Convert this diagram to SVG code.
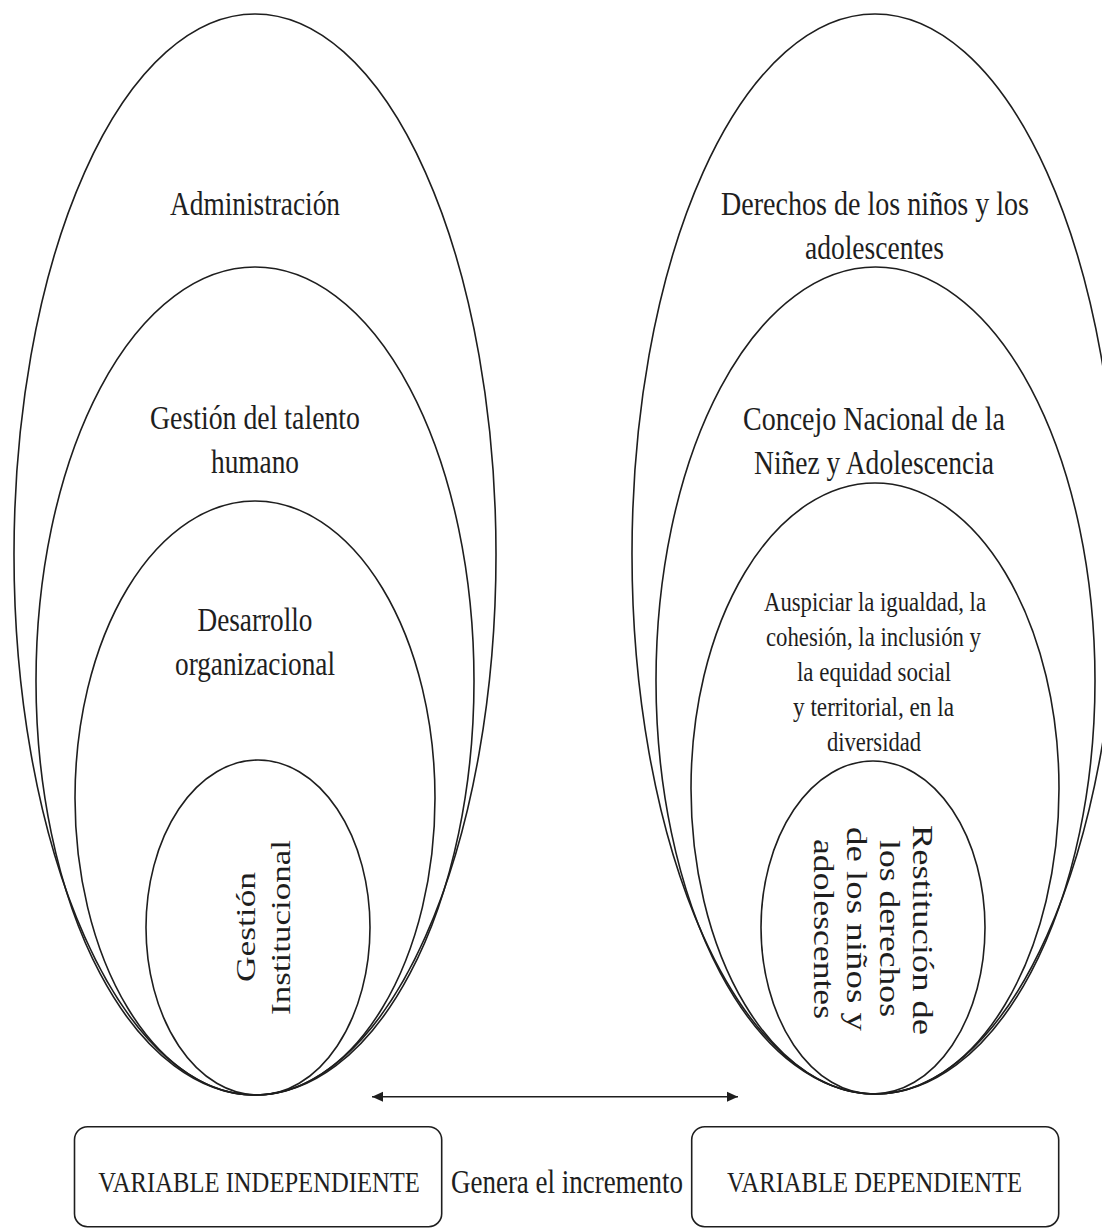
<svg xmlns="http://www.w3.org/2000/svg" width="1102" height="1230" viewBox="0 0 1102 1230">
<style>
.e{fill:none;stroke:#1e1e1e;stroke-width:1.6}
.box{fill:#fff;stroke:#1e1e1e;stroke-width:1.6}
.t{font-family:"Liberation Serif","Times New Roman",serif;fill:#1e1e1e;text-anchor:middle}
.f34{font-size:34px}
.f28{font-size:28px}
.f30{font-size:30px}
.f35{font-size:35px}
.f36{font-size:36px}
.conn{stroke:#1e1e1e;stroke-width:1.6;fill:none}
</style>
<defs>
<marker id="ah" markerUnits="userSpaceOnUse" markerWidth="12" markerHeight="12" viewBox="0 0 12 12" refX="11" refY="6" orient="auto-start-reverse">
<path d="M0,1 L11,6 L0,11 Z" fill="#1e1e1e"/>
</marker>
</defs>
<rect width="1102" height="1230" fill="#fff"/>

<g id="left-administracion">
<ellipse class="e" cx="255" cy="554.5" rx="241" ry="540.5"/>
<text class="t f34" x="255" y="215" textLength="170" lengthAdjust="spacingAndGlyphs">Administración</text>
</g>
<g id="left-talento">
<ellipse class="e" cx="255" cy="681" rx="219" ry="414"/>
<text class="t f34" x="255" y="429" textLength="210" lengthAdjust="spacingAndGlyphs">Gestión del talento</text>
<text class="t f34" x="255" y="473" textLength="88" lengthAdjust="spacingAndGlyphs">humano</text>
</g>
<g id="left-desarrollo">
<ellipse class="e" cx="255" cy="798" rx="180" ry="297"/>
<text class="t f34" x="255" y="631" textLength="115" lengthAdjust="spacingAndGlyphs">Desarrollo</text>
<text class="t f34" x="255" y="675" textLength="160" lengthAdjust="spacingAndGlyphs">organizacional</text>
</g>
<g id="left-gestion-institucional">
<ellipse class="e" cx="258" cy="927.5" rx="112" ry="167.5"/>
<text class="t f35" transform="translate(255,927) scale(0.8,1) rotate(-90)" x="0" y="0" textLength="110" lengthAdjust="spacingAndGlyphs">Gestión</text>
<text class="t f35" transform="translate(290,927.5) scale(0.8,1) rotate(-90)" x="0" y="0" textLength="175" lengthAdjust="spacingAndGlyphs">Institucional</text>
</g>

<g id="right-derechos">
<ellipse class="e" cx="875" cy="554" rx="243" ry="540"/>
<text class="t f34" x="875" y="215" textLength="308" lengthAdjust="spacingAndGlyphs">Derechos de los niños y los</text>
<text class="t f34" x="874.5" y="259" textLength="139" lengthAdjust="spacingAndGlyphs">adolescentes</text>
</g>
<g id="right-concejo">
<ellipse class="e" cx="875.5" cy="680.5" rx="219.5" ry="413.5"/>
<text class="t f34" x="874" y="430" textLength="262" lengthAdjust="spacingAndGlyphs">Concejo Nacional de la</text>
<text class="t f34" x="874" y="474" textLength="240" lengthAdjust="spacingAndGlyphs">Niñez y Adolescencia</text>
</g>
<g id="right-auspiciar">
<ellipse class="e" cx="875" cy="788.5" rx="184" ry="305.5"/>
<text class="t f28" x="875" y="611" textLength="222" lengthAdjust="spacingAndGlyphs">Auspiciar la igualdad, la</text>
<text class="t f28" x="873.5" y="646" textLength="215" lengthAdjust="spacingAndGlyphs">cohesión, la inclusión y</text>
<text class="t f28" x="874" y="681" textLength="154" lengthAdjust="spacingAndGlyphs">la equidad social</text>
<text class="t f28" x="873.5" y="716" textLength="161" lengthAdjust="spacingAndGlyphs">y territorial, en la</text>
<text class="t f28" x="874" y="751" textLength="94" lengthAdjust="spacingAndGlyphs">diversidad</text>
</g>
<g id="right-restitucion">
<ellipse class="e" cx="873" cy="927.5" rx="112" ry="166.5"/>
<text class="t f36" transform="translate(913,930) scale(0.8,1) rotate(90)" x="0" y="0" textLength="210" lengthAdjust="spacingAndGlyphs">Restitución de</text>
<text class="t f36" transform="translate(880,928.5) scale(0.8,1) rotate(90)" x="0" y="0" textLength="177" lengthAdjust="spacingAndGlyphs">los derechos</text>
<text class="t f36" transform="translate(847,929) scale(0.8,1) rotate(90)" x="0" y="0" textLength="204" lengthAdjust="spacingAndGlyphs">de los niños y</text>
<text class="t f36" transform="translate(814,929) scale(0.8,1) rotate(90)" x="0" y="0" textLength="180" lengthAdjust="spacingAndGlyphs">adolescentes</text>
</g>

<g id="box-independiente">
<rect class="box" x="74.5" y="1126.7" width="367.2" height="100" rx="13"/>
<text class="t f30" transform="translate(259,1191.5) scale(0.8,1)" x="0" y="0" textLength="402" lengthAdjust="spacingAndGlyphs">VARIABLE INDEPENDIENTE</text>
</g>
<g id="box-dependiente">
<rect class="box" x="691.7" y="1126.7" width="367" height="100" rx="13"/>
<text class="t f30" transform="translate(874.5,1191.5) scale(0.8,1)" x="0" y="0" textLength="369" lengthAdjust="spacingAndGlyphs">VARIABLE DEPENDIENTE</text>
</g>

<g id="connectors">
<line class="conn" x1="372" y1="1096.7" x2="738" y2="1096.7" marker-start="url(#ah)" marker-end="url(#ah)"/>
<text class="t f34" transform="translate(567,1193) scale(0.8,1)" x="0" y="0" textLength="290" lengthAdjust="spacingAndGlyphs">Genera el incremento</text>
</g>
</svg>
